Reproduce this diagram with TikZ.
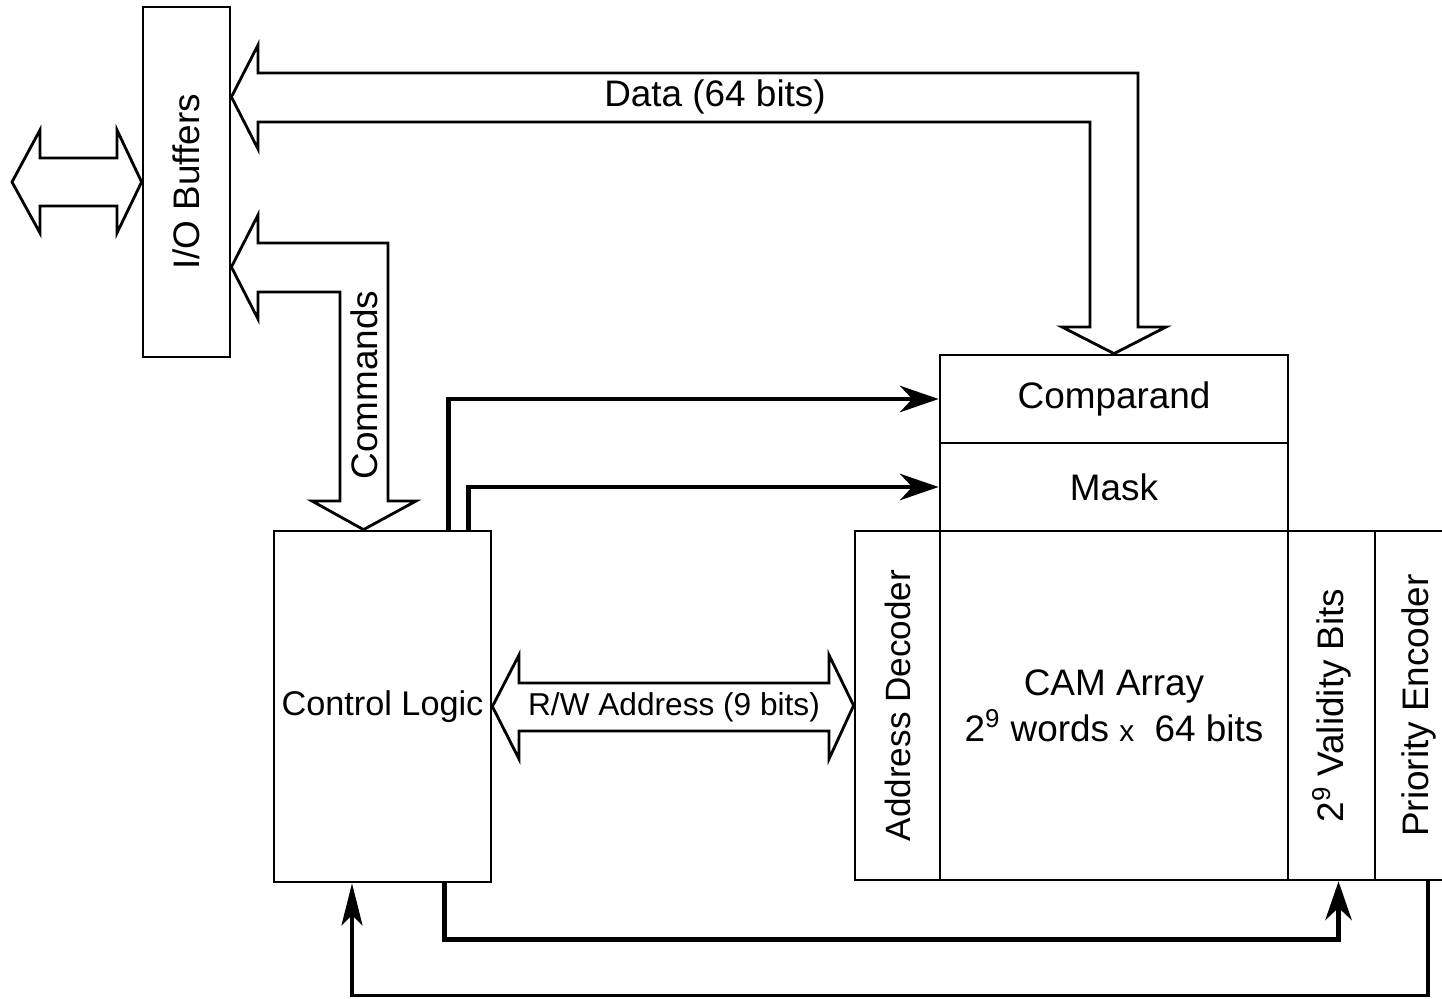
\documentclass[tikz,border=0pt]{standalone}
\usepackage{fontspec}
\setmainfont{Liberation Sans}
\usetikzlibrary{arrows.meta}

\begin{document}
\begin{tikzpicture}[
  x=0.02cm, y={(0cm,-0.02cm)},
  font=\fontsize{21}{26}\selectfont,
  box/.style={draw, line width=1.6pt, inner sep=0pt, align=center},
  bus/.style={draw, line width=1.6pt, line join=miter},
  ctl/.style={line width=2.8pt, -{Stealth[length=22pt, width=15pt, inset=7pt]}},
  fb/.style={line width=2pt, -{Stealth[length=24pt, width=12pt, inset=6pt]}}
]
\useasboundingbox (0,0) rectangle (1442,999);
\clip (0,0) rectangle (1442,999);

%% Blocks
\node[box, minimum width=1.74cm, minimum height=7cm] (io) at (186.5,182) {\rotatebox{90}{I/O Buffers}};
\node[box, minimum width=4.34cm, minimum height=7.02cm] (ctrl) at (382.5,706.5) {\fontsize{19.5}{24}\selectfont Control Logic};
\node[box, minimum width=6.96cm, minimum height=1.76cm] (cmp) at (1114,399) {Comparand};
\node[box, minimum width=6.96cm, minimum height=1.76cm] (mask) at (1114,487) {Mask};
\node[box, minimum width=1.7cm, minimum height=6.98cm] (dec) at (897.5,705.5) {\rotatebox{90}{\fontsize{20}{24}\selectfont Address Decoder}};
\node[box, minimum width=6.96cm, minimum height=6.98cm] (cam) at (1114,705.5)
  {CAM Array\\2\textsuperscript{9} words {\fontsize{17}{20}\selectfont x}\ \ 64 bits};
\node[box, minimum width=1.74cm, minimum height=6.98cm] (valid) at (1331.5,705.5) {\rotatebox{90}{2\textsuperscript{9} Validity Bits}};
\node[box, minimum width=1.74cm, minimum height=6.98cm] (prio) at (1418.5,705.5) {\rotatebox{90}{Priority Encoder}};

%% Buses
\draw[bus] (12,182) -- (40,130) -- (40,158) -- (117,158) -- (117,130) -- (io.west)
  -- (117,233) -- (117,206) -- (40,206) -- (40,233) -- cycle;
\draw[bus] (io.east |- 0,97) -- (258,45) -- (258,73) -- (1138,73) -- (1138,327) -- (1166,327)
  -- (cmp.north) -- (1062,327) -- (1090,327) -- (1090,122) -- (258,122) -- (258,149) -- cycle;
\draw[bus] (io.east |- 0,267) -- (258,215) -- (258,243) -- (388,243) -- (388,501) -- (416,501)
  -- ([xshift=-0.38cm]ctrl.north) -- (312,501) -- (340,501) -- (340,292) -- (258,292) -- (258,319) -- cycle;
\draw[bus] (ctrl.east) -- (519,655) -- (519,683) -- (829,683) -- (829,655) -- (dec.west)
  -- (829,759) -- (829,731) -- (519,731) -- (519,759) -- cycle;

%% Bus labels
\node (datalbl) at (715,97) {Data (64 bits)};
\node (cmdlbl) at (364,385) {\rotatebox{90}{Commands}};
\node (rwlbl) at (674,707) {\fontsize{18}{22}\selectfont R/W Address (9 bits)};

%% Control lines
\draw[ctl] ([xshift=-0.88cm]ctrl.north east) |- (cmp.west);
\draw[ctl] ([xshift=-0.48cm]ctrl.north east) |- (mask.west);
\draw[ctl] ([xshift=-0.96cm]ctrl.south east) -- ++(0,56) -| ([xshift=0.14cm]valid.south);
\draw[fb] ([xshift=0.19cm]prio.south) -- ++(0,114) -| ([xshift=-0.61cm]ctrl.south);
\end{tikzpicture}
\end{document}
